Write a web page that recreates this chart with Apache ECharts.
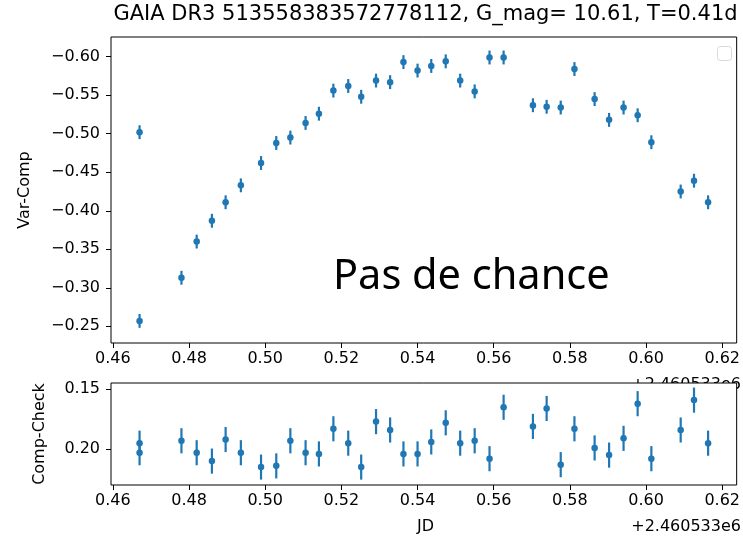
<!DOCTYPE html>
<html>
<head>
<meta charset="utf-8">
<script src="https://cdn.jsdelivr.net/npm/echarts@6/dist/echarts.min.js"></script>
<style>
html,body{margin:0;padding:0;background:#fff;}
#chart{width:743px;height:539px;}
</style>
</head>
<body>
<div id="chart"></div>
<script>
// ---- data ----
const jd = [0.4670, 0.4670, 0.4780, 0.4820, 0.4860, 0.4896, 0.4936, 0.4989, 0.5029, 0.5066,
            0.5106, 0.5141, 0.5179, 0.5218, 0.5252, 0.5291, 0.5328, 0.5363, 0.5400, 0.5436,
            0.5474, 0.5512, 0.5550, 0.5589, 0.5626, 0.5703, 0.5739, 0.5776, 0.5812, 0.5865,
            0.5903, 0.5941, 0.5978, 0.6014, 0.6091, 0.6126, 0.6163];
const varComp = [-0.502, -0.257, -0.313, -0.360, -0.387, -0.411, -0.433, -0.462, -0.488, -0.495,
                 -0.514, -0.526, -0.556, -0.562, -0.548, -0.569, -0.567, -0.593, -0.582, -0.588,
                 -0.594, -0.569, -0.555, -0.599, -0.599, -0.537, -0.535, -0.534, -0.584, -0.545,
                 -0.518, -0.534, -0.524, -0.489, -0.425, -0.439, -0.411];
const compCheck = [0.195, 0.203, 0.193, 0.203, 0.210, 0.192, 0.203, 0.215, 0.214, 0.193,
                   0.203, 0.204, 0.183, 0.195, 0.215, 0.177, 0.184, 0.204, 0.204, 0.194,
                   0.178, 0.195, 0.193, 0.208, 0.165, 0.181, 0.166, 0.213, 0.183, 0.199,
                   0.205, 0.191, 0.162, 0.208, 0.184, 0.159, 0.195];
const errVar = 0.009;     // half-length of error bars, top panel
const errCheck = 0.0105;  // half-length of error bars, bottom panel
const xTicks = [0.46, 0.48, 0.50, 0.52, 0.54, 0.56, 0.58, 0.60, 0.62];
const yTopTicks = [-0.60, -0.55, -0.50, -0.45, -0.40, -0.35, -0.30, -0.25];
const yBotTicks = [0.15, 0.20];
const titleText = 'GAIA DR3 513558383572778112, G_mag= 10.61, T=0.41d';
const offsetText = '+2.460533e6';

// ---- chart ----
const COLOR = '#1f77b4';
const FONT = 'DejaVu Sans';
const chart = echarts.init(document.getElementById('chart'), null, {renderer: 'canvas'});

function fmtNum(v) {
  return (v < 0 ? '\u2212' : '') + Math.abs(v).toFixed(2);
}
function xAxisOf(idx) {
  return {
    type: 'value', gridIndex: idx, min: 0.4595, max: 0.6238, position: 'bottom',
    axisLine: {show: false, onZero: false},
    axisTick: {show: true, length: 5, customValues: xTicks, lineStyle: {color: '#000', width: 1}},
    axisLabel: {customValues: xTicks, formatter: fmtNum, fontSize: 16, fontFamily: FONT, color: '#000', margin: 8},
    splitLine: {show: false}
  };
}
function yAxisOf(idx, min, max, ticks) {
  return {
    type: 'value', gridIndex: idx, min: min, max: max, inverse: true,
    axisLine: {show: false, onZero: false},
    axisTick: {show: true, length: 5, customValues: ticks, lineStyle: {color: '#000', width: 1}},
    axisLabel: {customValues: ticks, formatter: fmtNum, fontSize: 16, fontFamily: FONT, color: '#000', margin: 11},
    splitLine: {show: false}
  };
}
function errSeries(idx, vals, err) {
  return {
    type: 'custom', xAxisIndex: idx, yAxisIndex: idx,
    data: jd.map((x, i) => [x, vals[i]]),
    renderItem: function (params, api) {
      const x = api.value(0), y = api.value(1);
      const p1 = api.coord([x, y - err]);
      const p2 = api.coord([x, y + err]);
      return {type: 'line', shape: {x1: p1[0], y1: p1[1], x2: p2[0], y2: p2[1]},
              style: {stroke: COLOR, lineWidth: 2.2}};
    },
    z: 2, silent: true
  };
}
function ptSeries(idx, vals) {
  return {
    type: 'scatter', xAxisIndex: idx, yAxisIndex: idx,
    data: jd.map((x, i) => [x, vals[i]]),
    symbol: 'circle', symbolSize: 6.5,
    itemStyle: {color: COLOR, opacity: 1},
    z: 3, silent: true
  };
}

const option = {
  animation: false,
  backgroundColor: '#fff',
  grid: [
    {left: 111, top: 37, width: 629, height: 306, show: true, borderColor: '#000', borderWidth: 1, backgroundColor: 'rgba(0,0,0,0)', containLabel: false},
    {left: 111, top: 383, width: 629, height: 102, show: true, borderColor: '#000', borderWidth: 1, backgroundColor: '#fff', containLabel: false}
  ],
  xAxis: [xAxisOf(0), xAxisOf(1)],
  yAxis: [yAxisOf(0, -0.6256, -0.2283, yTopTicks), yAxisOf(1, 0.1447, 0.2300, yBotTicks)],
  series: [
    errSeries(0, varComp, errVar), ptSeries(0, varComp),
    errSeries(1, compCheck, errCheck), ptSeries(1, compCheck)
  ],
  graphic: [
    {type: 'text', z: 10, style: {text: titleText, x: 425.5, y: 15, textAlign: 'center', textVerticalAlign: 'middle', font: '21px "DejaVu Sans"', fill: '#000'}},
    {type: 'text', z: 10, rotation: Math.PI / 2, x: 25, y: 190, style: {text: 'Var-Comp', x: 0, y: 0, textAlign: 'center', textVerticalAlign: 'middle', font: '16px "DejaVu Sans"', fill: '#000'}},
    {type: 'text', z: 10, rotation: Math.PI / 2, x: 40, y: 434, style: {text: 'Comp-Check', x: 0, y: 0, textAlign: 'center', textVerticalAlign: 'middle', font: '16px "DejaVu Sans"', fill: '#000'}},
    {type: 'text', z: -100, zlevel: 0, style: {text: offsetText, x: 741, y: 385, textAlign: 'right', textVerticalAlign: 'middle', font: '16px "DejaVu Sans"', fill: '#000'}},
    {type: 'text', z: 10, style: {text: 'JD', x: 425.5, y: 527, textAlign: 'center', textVerticalAlign: 'middle', font: '16px "DejaVu Sans"', fill: '#000'}},
    {type: 'text', z: 10, style: {text: offsetText, x: 741, y: 527, textAlign: 'right', textVerticalAlign: 'middle', font: '16px "DejaVu Sans"', fill: '#000'}},
    {type: 'text', z: 10, style: {text: 'Pas de chance', x: 333, y: 277, textAlign: 'left', textVerticalAlign: 'middle', font: '41.5px "Noto Sans"', fill: '#000'}},
    {type: 'rect', z: 10, shape: {x: 717.5, y: 46.5, width: 14, height: 14, r: 3}, style: {fill: '#fff', stroke: '#d9d9d9', lineWidth: 1}}
  ]
};
chart.setOption(option);
</script>
</body>
</html>
